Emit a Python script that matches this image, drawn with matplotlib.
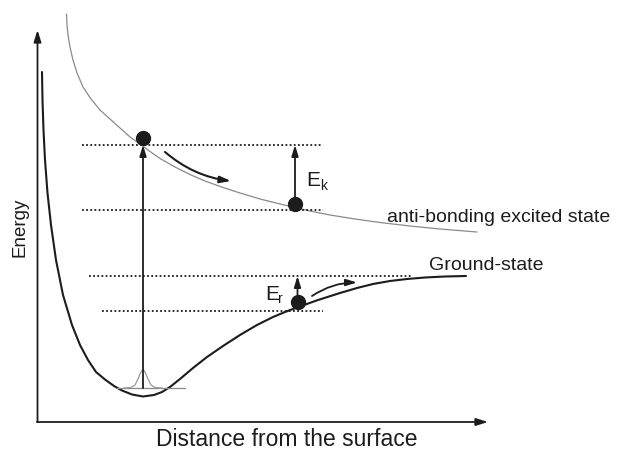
import matplotlib
matplotlib.use("Agg")
import matplotlib.pyplot as plt

plt.rcParams['font.family'] = ['Liberation Sans', 'DejaVu Sans']

# ---- schematic data (in picture units) ----
ground_x = [42, 42.5, 43.5, 45, 47.5, 51, 56, 63, 72, 80, 88, 96, 105, 114, 122, 132, 143,
            154, 162, 170, 180, 193, 207, 223, 240, 257, 273, 285, 297, 318, 340, 357, 373,
            390, 407, 425, 445, 466]
ground_y = [72, 100, 130, 160, 193, 225, 260, 295, 325, 345, 360, 372, 379.5, 386, 390.5, 394.5, 396.5,
            395, 392, 387, 379, 368, 357, 346, 335, 325, 317, 312, 307.5, 300, 293, 288, 284,
            281, 279, 277.5, 276.5, 276]

excited_x = [66.5, 67, 68, 70, 73, 77, 83, 91, 100, 110, 120, 130, 140, 150, 160, 175, 190, 205,
             223, 240, 260, 280, 295, 310, 330, 355, 380, 410, 440, 477]
excited_y = [14, 25, 35, 47, 60, 73, 87, 99, 110, 119, 128, 137, 144, 151.5, 158.5, 167, 174.5, 181,
             187.5, 193, 199, 204, 207.5, 211, 215, 219, 222.5, 226, 229, 232]

wave_x = [124, 131, 135, 138, 140, 142, 143, 144, 146, 148, 151, 155, 162]
wave_y = [388, 387.5, 385, 379, 374, 370.5, 369.5, 370.5, 374, 379, 385, 387.5, 388]
wave_base_x = [117, 185]
wave_base_y = 388

level_y = [145, 210, 276, 311]
level_x0 = [82, 82, 89, 102]
level_x1 = [321, 323, 412, 323]

particle_x = [143, 295, 297.5]
particle_y = [138, 204, 302]

axis_origin = (37.5, 422)
axis_y_top = 30
axis_x_right = 488

excite_arrow = ((143, 388), (143, 145))
ek_arrow = ((295, 198), (295, 145))
er_arrow = ((297.5, 296), (297.5, 276))
slide_arrow_ex = ((165, 152), (231, 181))
slide_arrow_gr = ((312, 296), (357, 282.5))

# ---- figure ----
fig = plt.figure(figsize=(6.17, 4.54), dpi=100)
ax = fig.add_axes([0, 0, 1, 1])
ax.set_xlim(0, 617)
ax.set_ylim(454, 0)
ax.axis('off')

dark = '#1c1c1c'

# axes arrows
ax.annotate('', xy=(axis_origin[0], axis_y_top), xytext=axis_origin,
            arrowprops=dict(arrowstyle='-|>,head_length=0.7,head_width=0.22', color=dark,
                            lw=1.3, shrinkA=0, shrinkB=0))
ax.annotate('', xy=(axis_x_right, axis_origin[1]), xytext=(axis_origin[0] - 0.6, axis_origin[1]),
            arrowprops=dict(arrowstyle='-|>,head_length=0.7,head_width=0.22', color=dark,
                            lw=1.3, shrinkA=0, shrinkB=0))

# potential curves
ax.plot(excited_x, excited_y, color='#8a8a8a', lw=0.9, solid_capstyle='round')
ax.plot(ground_x, ground_y, color=dark, lw=1.5, solid_capstyle='round', solid_joinstyle='round')

# vibrational wave packet
ax.plot(wave_base_x, [wave_base_y, wave_base_y], color='#8a8a8a', lw=0.9)
ax.plot(wave_x, wave_y, color='#9a9a9a', lw=0.9)

# dotted energy levels
for y, x0, x1 in zip(level_y, level_x0, level_x1):
    ax.plot([x0, x1], [y, y], color=dark, lw=1.3, linestyle=(0, (1, 1.3)))

# vertical arrows
for (start, end) in [excite_arrow, ek_arrow, er_arrow]:
    ax.annotate('', xy=end, xytext=start,
                arrowprops=dict(arrowstyle='-|>,head_length=0.65,head_width=0.2', color=dark,
                                lw=1.3, shrinkA=0, shrinkB=0))

# curved sliding arrows
ax.annotate('', xy=slide_arrow_ex[1], xytext=slide_arrow_ex[0],
            arrowprops=dict(arrowstyle='-|>,head_length=0.65,head_width=0.2', color=dark,
                            lw=1.5, shrinkA=0, shrinkB=0, connectionstyle='arc3,rad=0.15'))
ax.annotate('', xy=slide_arrow_gr[1], xytext=slide_arrow_gr[0],
            arrowprops=dict(arrowstyle='-|>,head_length=0.65,head_width=0.2', color=dark,
                            lw=1.3, shrinkA=0, shrinkB=0, connectionstyle='arc3,rad=-0.15'))

# particles
ax.plot(particle_x, particle_y, 'o', color=dark, markersize=10, zorder=5)

# labels
ax.text(306, 186, 'E', fontsize=15, color=dark, ha='left', va='baseline')
ax.text(320, 190, 'k', fontsize=10, color=dark, ha='left', va='baseline')
ax.text(265, 300, 'E', fontsize=15, color=dark, ha='left', va='baseline')
ax.text(278, 303, 'r', fontsize=10, color=dark, ha='left', va='baseline')

ax.text(387, 217, 'anti-bonding excited state', fontsize=14, color=dark, ha='left', va='center')
ax.text(429, 266, 'Ground-state', fontsize=14, color=dark, ha='left', va='center')

ax.text(20, 227, 'Energy', fontsize=13.5, color=dark, rotation=90, ha='center', va='center')
ax.text(287, 440, 'Distance from the surface', fontsize=16.5, color=dark, ha='center', va='center')

fig.savefig('out.png', dpi=100)
